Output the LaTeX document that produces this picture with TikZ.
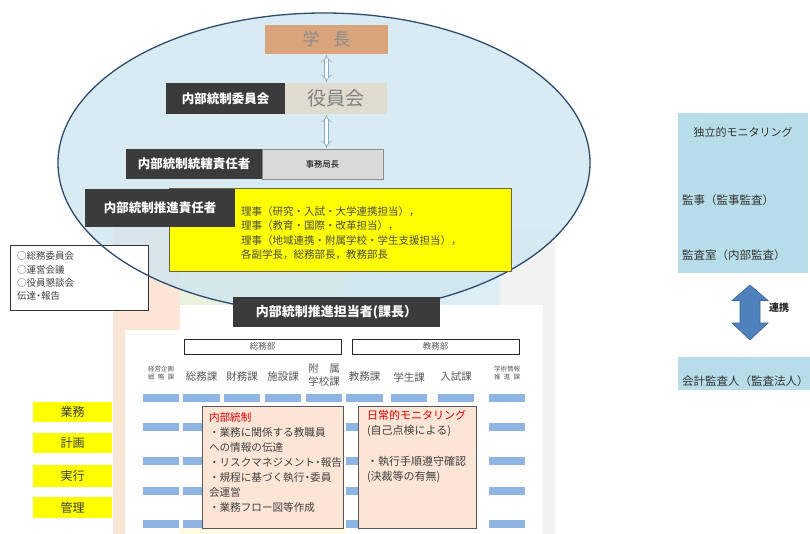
\documentclass[tikz,border=0pt]{standalone}
\usepackage{fontspec}
\setmainfont{Noto Sans CJK JP}
\usetikzlibrary{arrows.meta,calc}
\definecolor{darkbg}{HTML}{3B3B3B}
\definecolor{ellfill}{HTML}{CFE6F0}
\definecolor{ellline}{HTML}{2F4B6E}
\definecolor{tanbox}{HTML}{D9A47C}
\definecolor{beige}{HTML}{DFDBCF}
\definecolor{lgray}{HTML}{D9D9D9}
\definecolor{ybox}{HTML}{FFFF00}
\definecolor{peach}{HTML}{FBE5D6}
\definecolor{palegreen}{HTML}{EAF1DD}
\definecolor{paleblue}{HTML}{DCEEF4}
\definecolor{palegray}{HTML}{F2F2F2}
\definecolor{paleyellow}{HTML}{FFFBE0}
\definecolor{barblue}{HTML}{8DB4E2}
\definecolor{skyblue}{HTML}{B7DEE8}
\definecolor{arrowblue}{HTML}{4F81BD}
\definecolor{arrowedge}{HTML}{3B6596}
\definecolor{txtgray}{HTML}{595959}
\definecolor{hollowline}{HTML}{8EA7C0}
\newcommand\fsz[2]{\fontsize{#1}{#2}\selectfont}
\newcommand\nak{\makebox[0.55em]{・}}
\begin{document}
\begin{tikzpicture}[x=1pt,y=-1pt,
  every node/.style={inner sep=0pt,outer sep=0pt},
  blackbox/.style={fill=darkbg,text=white,font=\fsz{12.5}{15}\bfseries},
  barstyle/.style={fill=barblue},
  collabel/.style={text=txtgray,font=\fsz{10.5}{13}},
  tinylabel/.style={text=txtgray,font=\fsz{6.5}{8.5}},
  deptbox/.style={draw=black!85,line width=0.7pt,fill=white,minimum height=15pt,font=\fsz{8.5}{10},text=txtgray},
  yellowlab/.style={fill=ybox,minimum width=79pt,text=black!75,font=\fsz{12}{14}},
  notebox/.style={fill=peach,draw=black!65,line width=0.8pt},
  notetext/.style={anchor=north west,align=left,text=black!75,font=\fsz{11}{15}},
  hollow/.style={draw=hollowline,line width=0.5pt,double=white,double distance=3.5pt,{Implies}-{Implies}},
  skybox/.style={fill=skyblue},
  righttext/.style={anchor=west,text=black!80,font=\fsz{11.5}{14}}
]
\useasboundingbox (0,0) rectangle (810,534);
\fill[white] (0,0) rectangle (810,534);

% ---------- background table ----------
\fill[peach] (113,228) rectangle (180,330);
\fill[palegreen] (180,228) rectangle (345,305);
\fill[paleblue] (345,228) rectangle (500,305);
\fill[palegray] (500,228) rectangle (555,534);
\fill[peach] (113,330) rectangle (125,534);
\fill[white] (180,305) rectangle (543,534);
\fill[white] (125,330) rectangle (180,534);
\fill[paleyellow] (180,528) rectangle (345,534);

% department boxes
\node[deptbox,minimum width=157pt] (soumubu) at (262.5,346.5) {総務部};
\node[deptbox,minimum width=167pt] (kyomubu) at (435.5,346.5) {教務部};

% column labels
\node[tinylabel,align=center] (c1) at (161,373) {経営企画\\\makebox[26pt][s]{戦\hfill 略\hfill 課}};
\node[collabel] (c2) at (201.5,377) {総務課};
\node[collabel] (c3) at (242,377) {財務課};
\node[collabel] (c4) at (283,377) {施設課};
\node[collabel,align=center,font=\fsz{10.5}{13}] (c5) at (324,375.5) {附\hspace{1em}属\\学校課};
\node[collabel] (c6) at (364.5,377) {教務課};
\node[collabel] (c7) at (409,377) {学生課};
\node[collabel] (c8) at (456,377) {入試課};
\node[tinylabel,align=center] (c9) at (507,373) {学術情報\\\makebox[26pt][s]{推\hfill 進\hfill 課}};

% blue bars
\foreach \yy in {394,423,457,487,520}{
  \foreach \xa/\xb in {143/179,183/220,224/260,265/301,306/342,346/383,391/427,438/474,489/525}{
    \fill[barblue] (\xa,\yy) rectangle (\xb,\yy+8);
  }
}

% left yellow labels
\node[yellowlab,minimum height=20pt] (gyomu) at (72.5,412) {業務};
\node[yellowlab,minimum height=20pt] (keikaku) at (72.5,443) {計画};
\node[yellowlab,minimum height=22pt] (jikko) at (72.5,476) {実行};
\node[yellowlab,minimum height=21pt] (kanri) at (72.5,507.5) {管理};

% note boxes
\node[notebox,minimum width=141pt,minimum height=122pt] (ctrlbox) at (272.5,467) {};
\node[notetext,font=\fsz{10.6}{15}] (ctrltxt) at (209,412.5) {\textcolor{red!85!black}{内部統制}\\・業務に関係する教職員\\への情報の伝達\\・リスクマネジメント\nak 報告\\・規程に基づく執行\nak 委員\\会運営\\・業務フロー図等作成};
\node[notebox,minimum width=118pt,minimum height=122pt] (monbox) at (417,467) {};
\node[notetext,font=\fsz{11}{15.3}] (montxt) at (367,410) {\textcolor{red!85!black}{日常的モニタリング}\\(自己点検による)\\\mbox{}\\・執行手順遵守確認\\(決裁等の有無)};

% ---------- ellipse ----------
\path[fill=ellfill,fill opacity=0.8] (324,163) ellipse [x radius=266pt,y radius=150pt];

% committee box
\node[draw=black!80,line width=0.9pt,fill=white,minimum width=138pt,minimum height=65pt] (commbox) at (79,277.5) {};
\node[anchor=north west,align=left,text=black!75,font=\fsz{9.5}{13.3}] (commtxt) at (17,252) {○総務委員会\\○運営会議\\○役員懇談会\\伝達\nak 報告};

\draw[ellline,line width=1.3pt] (324,163) ellipse [x radius=266pt,y radius=150pt];

% ---------- nodes inside the ellipse ----------
\node[fill=tanbox,minimum width=123pt,minimum height=29pt,text=black!45,font=\fsz{17}{20}] (gakucho) at (326.5,39.5) {学\hspace{0.8em}長};
\node[fill=beige,minimum width=102pt,minimum height=31pt,text=black!50,font=\fsz{19}{22}] (yakuin) at (336,98.5) {役員会};
\node[blackbox,minimum width=119pt,minimum height=31pt] (iinkai) at (225.5,98.5) {内部統制委員会};
\node[fill=lgray,draw=black!45,line width=0.6pt,minimum width=121pt,minimum height=30pt,font=\fsz{8.3}{10},text=black] (jimu) at (322.5,164) {事務局長};
\node[blackbox,minimum width=136pt,minimum height=30pt] (tokatsu) at (194,164) {内部統制統轄責任者};

\draw[hollow] ([yshift=-1pt]gakucho.south) -- ([yshift=1pt]gakucho.south |- yakuin.north);
\draw[hollow] ([yshift=-1pt]gakucho.south |- yakuin.south) -- ([yshift=1pt]gakucho.south |- jimu.north);

\node[fill=ybox,draw=black!45!yellow!60!black,line width=0.7pt,minimum width=342pt,minimum height=83pt] (riji) at (340,229.5) {};
\node[anchor=north west,align=left,text=black!70,font=\fsz{10.5}{14.3}] (rijitxt) at (241,206.7) {理事（研究・入試・大学連携担当），\\理事（教育・国際・改革担当），\\理事（地域連携・附属学校・学生支援担当），\\各副学長，総務部長，教務部長};
\node[blackbox,minimum width=150pt,minimum height=38pt] (suishin) at (160,208) {内部統制推進責任者};

\node[blackbox,minimum width=207pt,minimum height=30pt,font=\fsz{13}{15}\bfseries] (tanto) at (336.5,312) {内部統制推進担当者(課長）};

% ---------- right side ----------
\node[skybox,minimum width=130pt,minimum height=160pt] (indep) at (743,193) {};
\node[text=black!80,font=\fsz{11}{14}] (indeptitle) at (743,132) {独立的モニタリング};
\node[righttext] (kanji) at (682,200) {監事（監事監査）};
\node[righttext] (kansa) at (682,255) {監査室（内部監査）};

\node[skybox,minimum width=132pt,minimum height=33pt] (audit) at (744,373.5) {};
\node[righttext,font=\fsz{11.5}{14}] (audittxt) at (682,381) {会計監査人（監査法人）};

\coordinate (lk) at ($(indep.south)!0.5!(audit.north)$);
\begin{scope}[shift={($(lk)+(6.5,-2.5)$)}]
\filldraw[fill=arrowblue,draw=arrowedge,line width=0.6pt]
  (0,-27.5) -- (18,-12) -- (10,-12) -- (10,10.5) -- (18,10.5) -- (0,27.5)
  -- (-18,10.5) -- (-10,10.5) -- (-10,-12) -- (-18,-12) -- cycle;
\end{scope}
\node[fill=white,inner sep=1pt,font=\fsz{10}{12}\bfseries,text=black!85] (renkei) at (779,308) {連携};
\end{tikzpicture}
\end{document}
